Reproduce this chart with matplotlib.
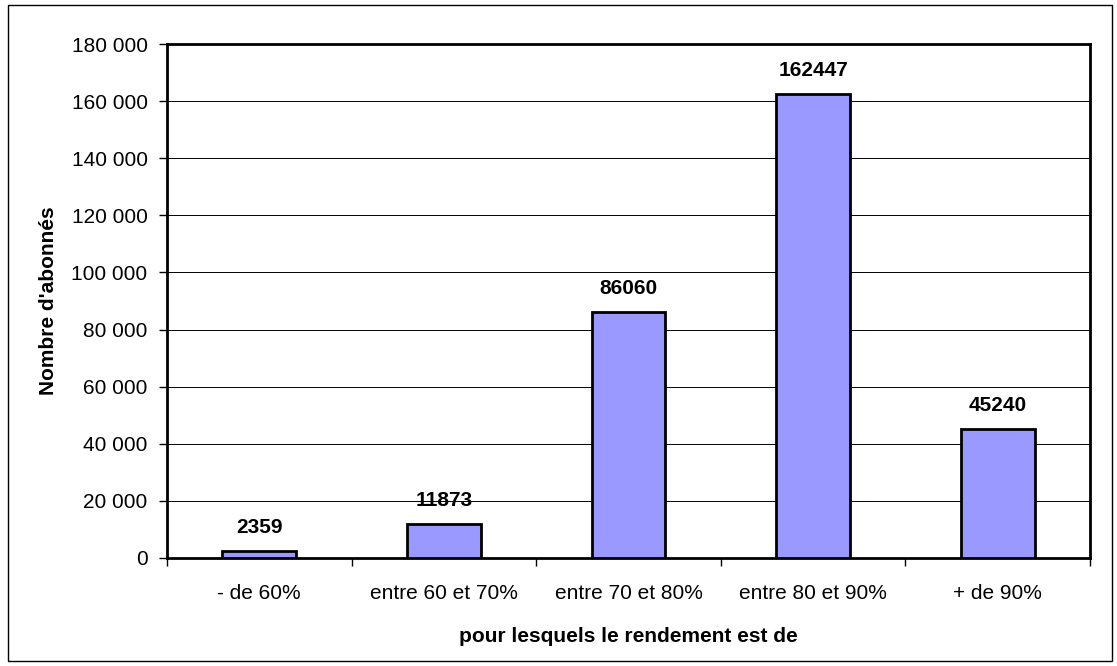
import matplotlib.pyplot as plt
from matplotlib.patches import Rectangle
from matplotlib.ticker import FuncFormatter, MultipleLocator

plt.rcParams["font.family"] = ["Liberation Sans", "DejaVu Sans"]

categories = ["- de 60%", "entre 60 et 70%", "entre 70 et 80%", "entre 80 et 90%", "+ de 90%"]
abonnes = [2359, 11873, 86060, 162447, 45240]

fig = plt.figure(figsize=(11.17, 6.66), dpi=100)
fig.patches.append(
    Rectangle((8 / 1117, 5 / 666), 1104 / 1117, 656 / 666, transform=fig.transFigure,
              fill=False, edgecolor="black", linewidth=1)
)
ax = fig.add_axes([0.1495, 0.1622, 0.8263, 0.7717])

x = list(range(len(categories)))
ax.bar(x, abonnes, width=0.4, color="#9999FF", edgecolor="black", linewidth=2, zorder=3)
for xi, v in zip(x, abonnes):
    ax.annotate(str(v), (xi, v), xytext=(0, 10), textcoords="offset points",
                ha="center", va="bottom", fontsize=15, fontweight="bold")

ax.set_xlim(-0.5, len(categories) - 0.5)
ax.set_ylim(0, 180000)
ax.yaxis.set_major_locator(MultipleLocator(20000))
ax.yaxis.set_major_formatter(FuncFormatter(lambda v, p: f"{int(v):,}".replace(",", " ")))
ax.grid(axis="y", color="black", linewidth=0.7, zorder=0)

ax.set_xticks([i - 0.5 for i in range(len(categories) + 1)])
ax.set_xticklabels([])
ax.set_xticks(x, minor=True)
ax.set_xticklabels(categories, minor=True)
ax.tick_params(axis="x", which="minor", length=0, pad=19, labelsize=15)
ax.tick_params(axis="x", which="major", length=6, width=1)
ax.tick_params(axis="y", length=6, width=1, labelsize=15, pad=8)
for s in ax.spines.values():
    s.set_linewidth(2)

ax.set_ylabel("Nombre d'abonnés", fontsize=15, fontweight="bold", labelpad=10)
ax.set_xlabel("pour lesquels le rendement est de", fontsize=15, fontweight="bold", labelpad=17)

fig.savefig("out.png", dpi=100)
